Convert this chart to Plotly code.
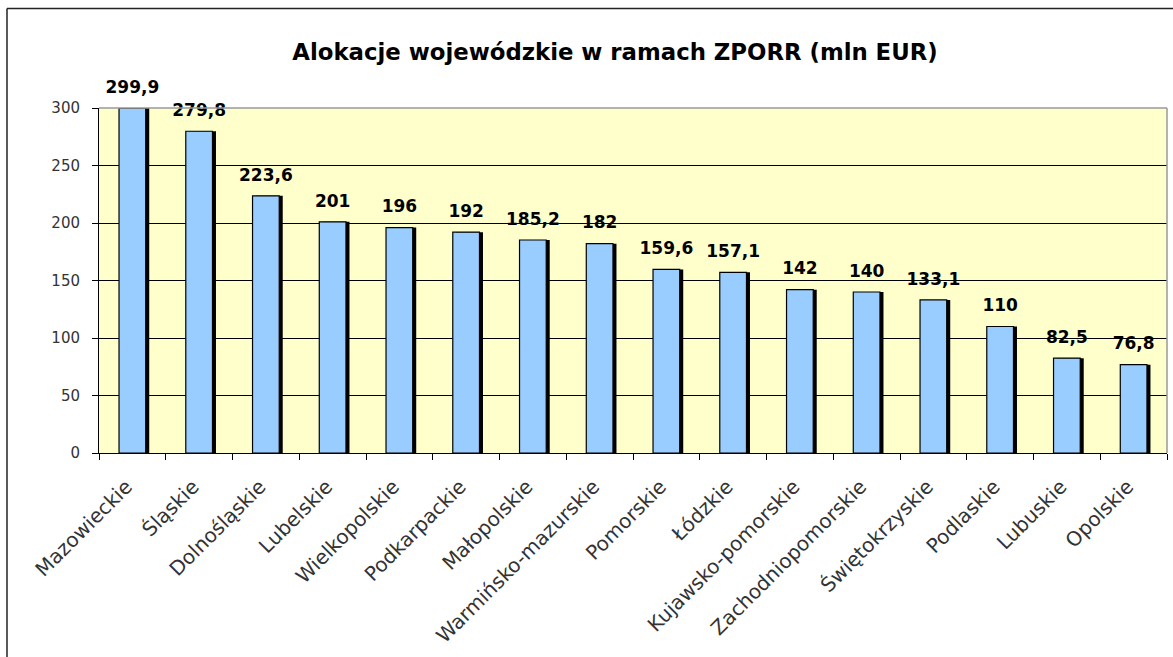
import plotly.graph_objects as go

categories = ["Mazowieckie", "Śląskie", "Dolnośląskie", "Lubelskie", "Wielkopolskie",
              "Podkarpackie", "Małopolskie", "Warmińsko-mazurskie", "Pomorskie", "Łódzkie",
              "Kujawsko-pomorskie", "Zachodniopomorskie", "Świętokrzyskie", "Podlaskie",
              "Lubuskie", "Opolskie"]
values = [299.9, 279.8, 223.6, 201, 196, 192, 185.2, 182, 159.6, 157.1, 142, 140, 133.1, 110, 82.5, 76.8]
labels = [("%g" % v).replace(".", ",") for v in values]

W, H = 1173, 657
L, R, T, B = 99, 6, 108, 204
slot_px = (W - L - R) / len(categories)
bw = 0.40
shadow = 3.5 / slot_px
FONT = "DejaVu Sans, Arial"

fig = go.Figure()
fig.add_trace(go.Bar(
    x=categories, y=values, width=bw, offset=-bw / 2 + shadow,
    marker=dict(color="black", line=dict(width=0)),
    hoverinfo="skip", showlegend=False))
fig.add_trace(go.Bar(
    x=categories, y=values, width=bw, offset=-bw / 2,
    marker=dict(color="#99CCFF", line=dict(color="black", width=1.2)),
    showlegend=False))
fig.add_trace(go.Scatter(
    x=categories, y=values, mode="markers+text", text=labels, textposition="top center",
    marker=dict(size=16, opacity=0),
    cliponaxis=False, hoverinfo="skip", showlegend=False,
    textfont=dict(family=FONT, size=17, color="black", weight="bold")))

fig.update_layout(
    width=W, height=H, barmode="overlay",
    margin=dict(l=L, r=R, t=T, b=B, autoexpand=False),
    paper_bgcolor="white", plot_bgcolor="#FFFFCC",
    font=dict(family=FONT, color="#333333"),
    title=dict(text="<b>Alokacje wojewódzkie w ramach ZPORR (mln EUR)</b>",
               x=615 / W, xref="container", xanchor="center",
               y=1 - 52 / H, yref="container", yanchor="middle",
               font=dict(size=22.8, color="black", family=FONT)),
    xaxis=dict(tickangle=-45, ticks="outside", ticklen=6, tickcolor="black",
               tickson="boundaries", showline=True, linecolor="black", linewidth=1,
               showgrid=False, tickfont=dict(size=20, color="#333333"),
               ticklabelstandoff=13, ticklabelshift=-6, automargin=False,
               range=[-0.5, len(categories) - 0.5]),
    yaxis=dict(range=[0, 300], dtick=50, ticks="outside", ticklen=6, tickcolor="black",
               showline=True, linecolor="black", linewidth=1,
               showgrid=True, gridcolor="black", gridwidth=1, zeroline=False,
               ticklabelstandoff=9, automargin=False,
               tickfont=dict(size=15, color="#333333")),
    shapes=[
        dict(type="line", xref="paper", yref="paper", x0=0, x1=1, y0=1, y1=1,
             line=dict(color="#999999", width=1.5)),
        dict(type="line", xref="paper", yref="paper", x0=1, x1=1, y0=0, y1=1,
             line=dict(color="#999999", width=1.5)),
        dict(type="line", xref="paper", yref="paper",
             x0=(7 - L) / (W - L - R), x1=(W + 10 - L) / (W - L - R),
             y0=1 + (T - 8.5) / (H - T - B), y1=1 + (T - 8.5) / (H - T - B),
             line=dict(color="#222222", width=1.5)),
        dict(type="line", xref="paper", yref="paper",
             x0=(7 - L) / (W - L - R), x1=(7 - L) / (W - L - R),
             y0=1 + (T - 8.5) / (H - T - B), y1=-(B + 10) / (H - T - B),
             line=dict(color="#222222", width=1.5)),
    ],
)

fig.write_html("out.html", config={"displayModeBar": False},
               post_script="document.body.style.margin='0';")
